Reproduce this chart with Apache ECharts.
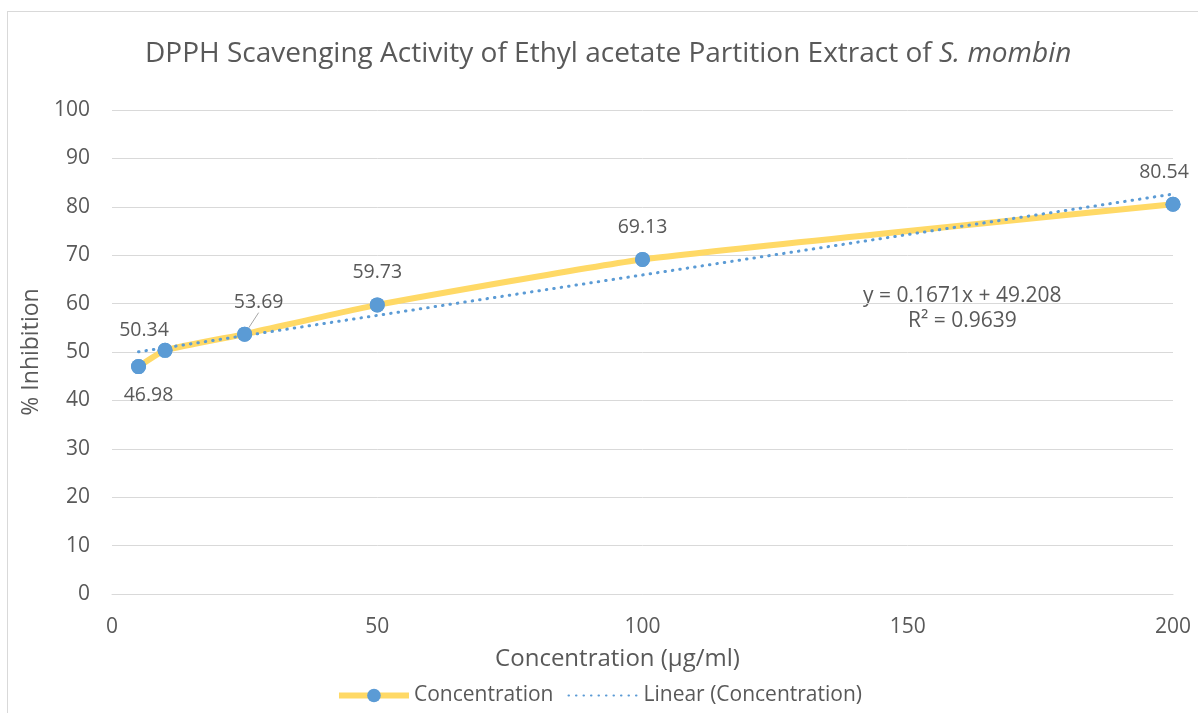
<!DOCTYPE html>
<html><head><meta charset="utf-8">
<script src="https://cdn.jsdelivr.net/npm/echarts@6/dist/echarts.min.js"></script>
<style>html,body{margin:0;padding:0;background:#fff}#c{width:1198px;height:713px}
#frame{position:absolute;left:7px;top:11px;width:1200px;height:710px;border:1px solid #d9d9d9;box-sizing:border-box;pointer-events:none}</style>
</head><body><div id="c"></div><div id="frame"></div>
<script>
const concentrations = [5, 10, 25, 50, 100, 200];
const inhibition = [46.98, 50.34, 53.69, 59.73, 69.13, 80.54];
const trendX = [5, 200];
const trendY = [50.04, 82.63];
const yTicks = [0, 10, 20, 30, 40, 50, 60, 70, 80, 90, 100];
const xTicks = [0, 50, 100, 150, 200];
const equationText = 'y = 0.1671x + 49.208';
const r2Text = 'R² = 0.9639';

const FONT = 'Open Sans';
const GRAY = '#595959';
const chart = echarts.init(document.getElementById('c'));
const labelShift = [[10, 58], [-21, 10], [14, -2], [0, -3], [0, -2], [-9, -2]];
const labelLineOn = [false, false, true, false, false, false];
chart.setOption({
  animation: false,
  textStyle: {fontFamily: FONT},
  title: {
    text: '{n|DPPH Scavenging Activity of Ethyl acetate Partition Extract of }{i|S. mombin}',
    left: 140, top: 35,
    textStyle: {fontWeight: 'normal', rich: {
      n: {fontFamily: FONT, fontSize: 28, color: GRAY, fontWeight: 'normal'},
      i: {fontFamily: FONT, fontSize: 28, color: GRAY, fontStyle: 'italic', fontWeight: 'normal'}
    }}
  },
  grid: {left: 112, right: 25, top: 110, bottom: 119},
  xAxis: {
    type: 'value', min: 0, max: 200, interval: 50,
    name: 'Concentration (µg/ml)', nameLocation: 'middle', nameGap: 53,
    nameTextStyle: {fontFamily: FONT, fontSize: 24, color: GRAY, padding: [0, 50, 0, 0]},
    axisLine: {show: true, lineStyle: {color: '#d9d9d9', width: 1}},
    axisTick: {show: false},
    splitLine: {show: false},
    axisLabel: {fontFamily: FONT, fontSize: 21, color: GRAY, margin: 23,
      formatter: v => xTicks.includes(v) ? String(v) : ''}
  },
  yAxis: {
    type: 'value', min: 0, max: 100, interval: 10,
    name: '% Inhibition', nameLocation: 'middle', nameGap: 69,
    nameTextStyle: {fontFamily: FONT, fontSize: 23, color: GRAY},
    axisLine: {show: false}, axisTick: {show: false},
    splitLine: {lineStyle: {color: '#d9d9d9', width: 1}},
    axisLabel: {fontFamily: FONT, fontSize: 21, color: GRAY, margin: 22,
      formatter: v => yTicks.includes(v) ? String(v) : ''}
  },
  legend: {
    bottom: 2, left: 'center', itemWidth: 70, itemHeight: 17, itemGap: 14,
    textStyle: {fontFamily: FONT, fontSize: 21, color: GRAY},
    data: [
      {name: 'Concentration', lineStyle: {width: 6, color: '#ffd966'}},
      {name: 'Linear (Concentration)', itemStyle: {color: 'rgba(0,0,0,0)', opacity: 0}}
    ]
  },
  series: [
    {
      name: 'Linear (Concentration)', type: 'line', z: 3,
      data: trendX.map((x, i) => [x, trendY[i]]),
      symbol: 'none', showSymbol: false,
      lineStyle: {color: '#5b9bd5', width: 3, type: [0.5, 7], cap: 'round'},
      itemStyle: {color: '#5b9bd5'}
    },
    {
      name: 'Concentration', type: 'line', z: 2,
      data: concentrations.map((x, i) => ({value: [x, inhibition[i]], labelLine: {show: labelLineOn[i]}})),
      smooth: 0.15,
      symbol: 'circle', symbolSize: 15,
      lineStyle: {color: '#ffd966', width: 6},
      itemStyle: {color: '#5b9bd5', borderWidth: 0},
      label: {show: true, position: 'top', distance: 12, fontFamily: FONT, fontSize: 19.5, color: GRAY,
        formatter: p => p.value[1].toFixed(2)},
      labelLine: {show: false, lineStyle: {color: '#a6a6a6', width: 1}},
      labelLayout: p => ({dx: labelShift[p.dataIndex][0], dy: labelShift[p.dataIndex][1]})
    },
    {
      name: 'Concentration', type: 'line', z: 4, silent: true,
      data: concentrations.map((x, i) => [x, inhibition[i]]),
      symbol: 'circle', symbolSize: 15, lineStyle: {width: 0, opacity: 0},
      itemStyle: {color: '#5b9bd5'}
    }
  ],
  graphic: [
    {type: 'text', left: 863, top: 286, style: {text: equationText, font: '21px ' + FONT, fill: GRAY}},
    {type: 'text', left: 908, top: 311, style: {text: r2Text, font: '21px ' + FONT, fill: GRAY}}
  ]
});
</script></body></html>
